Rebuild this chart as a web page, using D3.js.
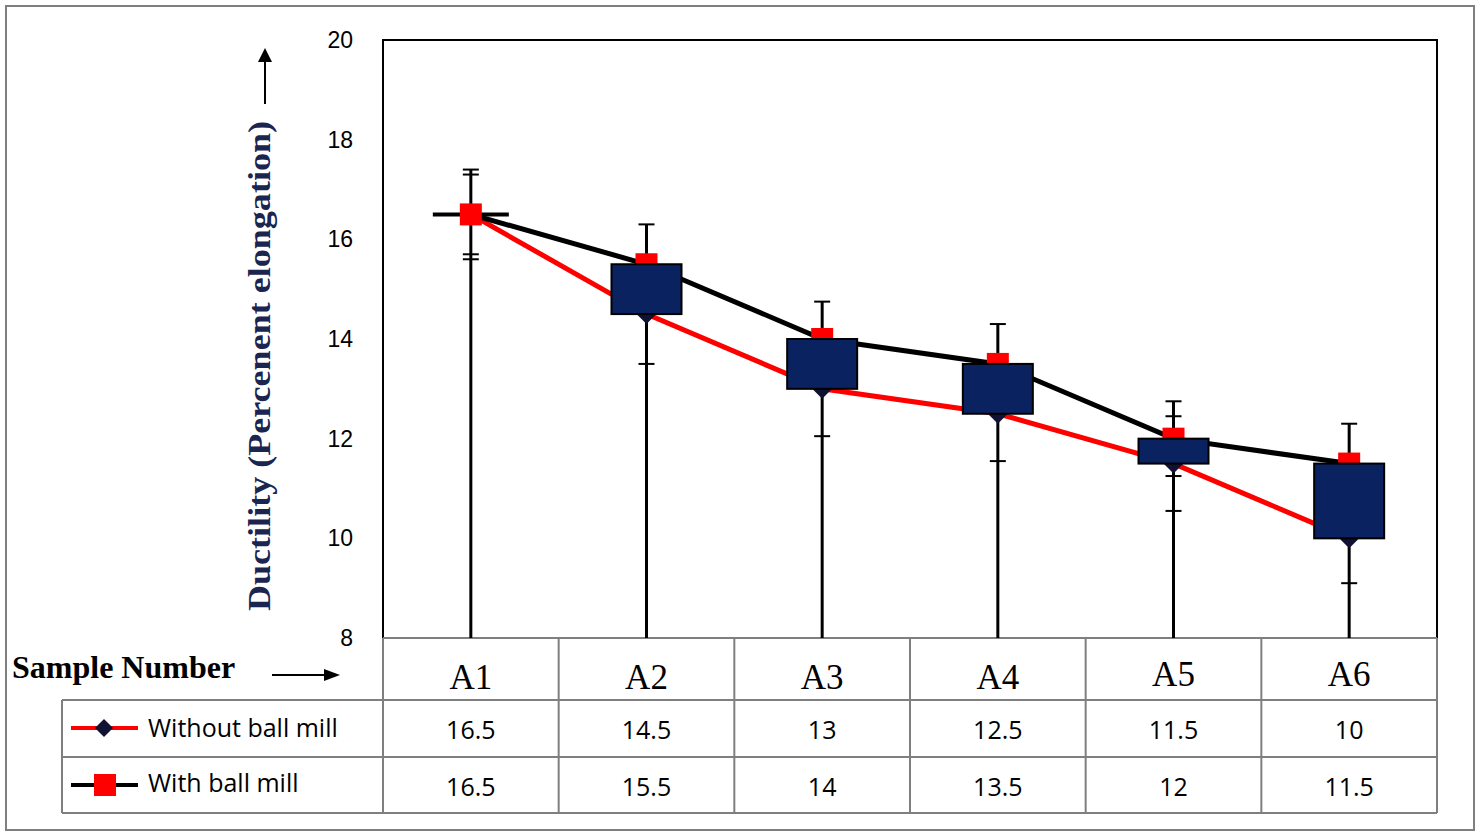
<!DOCTYPE html><html><head><meta charset="utf-8">
<script src="https://cdn.jsdelivr.net/npm/d3@7"></script>
<style>body{margin:0;background:#fff}</style></head><body>
<svg id="c" width="1480" height="838"></svg>
<script>
const categories=["A1","A2","A3","A4","A5","A6"];
const withoutMill=[16.5,14.5,13,12.5,11.5,10];
const withMill=[16.5,15.5,14,13.5,12,11.5];
const errWithout=[0.8,1.0,0.95,0.95,0.95,0.9];
const errWith=[0.9,0.8,0.75,0.8,0.75,0.8];
const yTicks=[8,10,12,14,16,18,20];

const svg=d3.select("#c");
const L=383,R=1437,T=40,B=638;
const x=d3.scaleBand().domain(categories).range([L,R]);
const y=d3.scaleLinear().domain([8,20]).range([B,T]);
const cx=c=>x(c)+x.bandwidth()/2;
const g="#7f7f7f";
svg.append("rect").attr("x",6).attr("y",6).attr("width",1468).attr("height",824).attr("fill","none").attr("stroke",g).attr("stroke-width",2);
svg.append("rect").attr("x",L).attr("y",T).attr("width",R-L).attr("height",B-T).attr("fill","none").attr("stroke","#000").attr("stroke-width",2);
svg.selectAll(".yt").data(yTicks).join("text").attr("x",353).attr("y",d=>y(d)+8).attr("text-anchor","end")
 .attr("font-family","Liberation Sans,Arial").attr("font-size",23).text(d=>d);
svg.append("text").attr("transform","translate(270,366) rotate(-90)").attr("text-anchor","middle")
 .attr("font-family","Liberation Serif,Times New Roman").attr("font-weight","bold").attr("font-size",31).attr("fill","#1a2550")
 .attr("textLength",490).attr("lengthAdjust","spacingAndGlyphs")
 .text("Ductility (Percenent  elongation)");
svg.append("line").attr("x1",265).attr("x2",265).attr("y1",104).attr("y2",58).attr("stroke","#000").attr("stroke-width",2);
svg.append("path").attr("d","M258,62 L265,48 L272,62Z").attr("fill","#000");
const tb=[638,700,757,813];
tb.forEach((v,i)=>svg.append("line").attr("x1",i==0?L:62).attr("x2",R).attr("y1",v).attr("y2",v).attr("stroke",g).attr("stroke-width",2));
svg.append("line").attr("x1",62).attr("x2",62).attr("y1",700).attr("y2",813).attr("stroke",g).attr("stroke-width",2);
categories.forEach(c=>svg.append("line").attr("x1",x(c)).attr("x2",x(c)).attr("y1",638).attr("y2",813).attr("stroke",g).attr("stroke-width",2));
svg.append("line").attr("x1",R).attr("x2",R).attr("y1",638).attr("y2",813).attr("stroke",g).attr("stroke-width",2);
svg.selectAll(".cat").data(categories).join("text").attr("x",cx).attr("y",(d,i)=>i>=4?686:689).attr("text-anchor","middle")
 .attr("font-family","Liberation Serif,Times New Roman").attr("font-size",35).text(d=>d);
[[withoutMill,739],[withMill,796]].forEach(([arr,yy])=>{
 svg.selectAll(null).data(arr).join("text").attr("x",(d,i)=>cx(categories[i])).attr("y",yy).attr("text-anchor","middle")
 .attr("font-family","Open Sans,Liberation Sans").attr("font-size",25).text(d=>String(d));
});
svg.append("text").attr("x",12).attr("y",678).attr("font-family","Liberation Serif,Times New Roman").attr("font-weight","bold").attr("font-size",32).text("Sample Number");
svg.append("line").attr("x1",272).attr("x2",328).attr("y1",675).attr("y2",675).attr("stroke","#000").attr("stroke-width",2);
svg.append("path").attr("d","M324,669 L340,675 L324,681Z").attr("fill","#000");
svg.append("line").attr("x1",71).attr("x2",138).attr("y1",728).attr("y2",728).attr("stroke","red").attr("stroke-width",4);
svg.append("path").attr("d","M104,719 L113,728 L104,737 L95,728Z").attr("fill","#111133");
svg.append("text").attr("x",148).attr("y",737).attr("font-family","Open Sans,Liberation Sans").attr("font-size",25).text("Without ball mill");
svg.append("line").attr("x1",71).attr("x2",138).attr("y1",785).attr("y2",785).attr("stroke","#000").attr("stroke-width",4);
svg.append("rect").attr("x",94).attr("y",774).attr("width",22).attr("height",22).attr("fill","red");
svg.append("text").attr("x",148).attr("y",792).attr("font-family","Open Sans,Liberation Sans").attr("font-size",25).text("With ball mill");
categories.forEach((c,i)=>{
 const top=Math.max(withMill[i]+errWith[i],withoutMill[i]+errWithout[i]);
 svg.append("line").attr("x1",cx(c)).attr("x2",cx(c)).attr("y1",B).attr("y2",y(top)).attr("stroke","#000").attr("stroke-width",3);
 [withMill[i]+errWith[i],withMill[i]-errWith[i],withoutMill[i]+errWithout[i],withoutMill[i]-errWithout[i]].forEach(v=>
  svg.append("line").attr("x1",cx(c)-8).attr("x2",cx(c)+8).attr("y1",y(v)).attr("y2",y(v)).attr("stroke","#000").attr("stroke-width",2));
});
const line=d3.line().x((d,i)=>cx(categories[i])).y(d=>y(d));
svg.append("path").attr("d",line(withoutMill)).attr("fill","none").attr("stroke","red").attr("stroke-width",5);
svg.append("path").attr("d",line(withMill)).attr("fill","none").attr("stroke","#000").attr("stroke-width",5);
svg.append("line").attr("x1",cx("A1")-38).attr("x2",cx("A1")+38).attr("y1",y(16.5)).attr("y2",y(16.5)).attr("stroke","#000").attr("stroke-width",4);
svg.selectAll(".dm").data(withoutMill).join("path").attr("transform",(d,i)=>`translate(${cx(categories[i])},${y(d)})`)
 .attr("d","M0,-10 L10,0 L0,10 L-10,0Z").attr("fill","#111133");
svg.selectAll(".sq").data(withMill).join("rect").attr("x",(d,i)=>cx(categories[i])-11).attr("y",d=>y(d)-11).attr("width",22).attr("height",22).attr("fill","red");
categories.forEach((c,i)=>{
 if(withMill[i]===withoutMill[i])return;
 svg.append("rect").attr("x",cx(c)-35).attr("width",70).attr("y",y(withMill[i])).attr("height",y(withoutMill[i])-y(withMill[i]))
  .attr("fill","#0b2260").attr("stroke","#000").attr("stroke-width",2);
});
</script></body></html>
